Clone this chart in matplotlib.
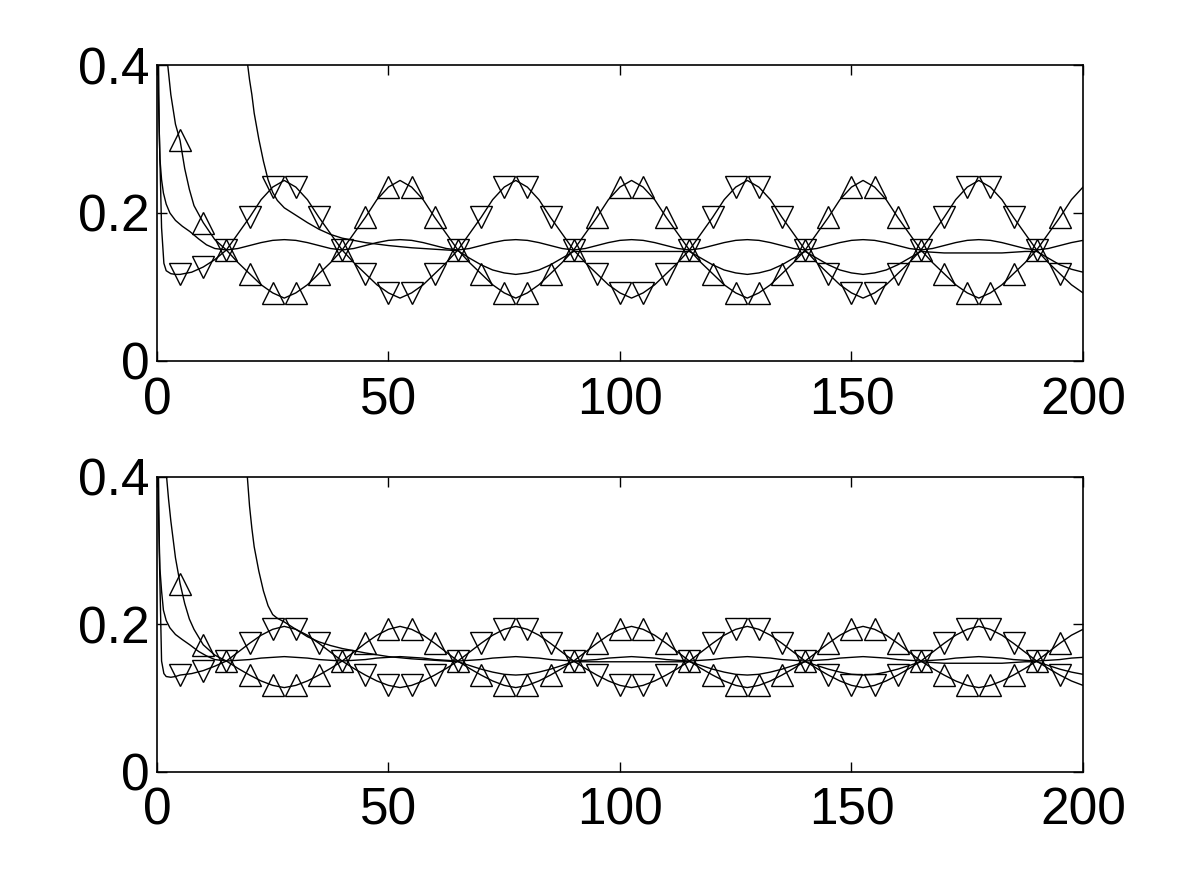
import numpy as np
import matplotlib
matplotlib.use("Agg")
from matplotlib import pyplot as plt

plt.rcParams['font.family'] = ['Liberation Sans', 'DejaVu Sans']

# ---------------- top panel data ----------------
# sine-like curve with down-triangles
xa_top = [0, 0.5, 1.0, 1.5, 2.0, 3.0, 4.0, 5.0, 7.5, 10.0, 12.5,
          15, 17.5, 20, 22.5, 25, 27.5, 30, 32.5, 35, 37.5,
          40, 42.5, 45, 47.5, 50, 52.5, 55, 57.5, 60, 62.5,
          65, 67.5, 70, 72.5, 75, 77.5, 80, 82.5, 85, 87.5,
          90, 92.5, 95, 97.5, 100, 102.5, 105, 107.5, 110, 112.5,
          115, 117.5, 120, 122.5, 125, 127.5, 130, 132.5, 135, 137.5,
          140, 142.5, 145, 147.5, 150, 152.5, 155, 157.5, 160, 162.5,
          165, 167.5, 170, 172.5, 175, 177.5, 180, 182.5, 185, 187.5,
          190, 192.5, 195, 197.5, 200]
ya_top = [0.62, 0.31, 0.18, 0.132, 0.122, 0.118, 0.117, 0.117, 0.120, 0.127, 0.137,
          0.150, 0.172, 0.194, 0.218, 0.235, 0.244, 0.235, 0.218, 0.194, 0.172,
          0.150, 0.133, 0.118, 0.103, 0.092, 0.085, 0.092, 0.103, 0.118, 0.133,
          0.150, 0.172, 0.194, 0.218, 0.235, 0.244, 0.235, 0.218, 0.194, 0.172,
          0.150, 0.133, 0.118, 0.103, 0.092, 0.085, 0.092, 0.103, 0.118, 0.133,
          0.150, 0.172, 0.194, 0.218, 0.235, 0.244, 0.235, 0.218, 0.194, 0.172,
          0.150, 0.133, 0.118, 0.103, 0.092, 0.085, 0.092, 0.103, 0.118, 0.133,
          0.150, 0.172, 0.194, 0.218, 0.235, 0.244, 0.235, 0.218, 0.194, 0.172,
          0.150, 0.133, 0.118, 0.103, 0.092]

# sine-like curve with up-triangles
xb_top = [2.0, 3.0, 4.0, 5.0, 6.0, 7.0, 8.0, 10.0, 12.5,
          15, 17.5, 20, 22.5, 25, 27.5, 30, 32.5, 35, 37.5,
          40, 42.5, 45, 47.5, 50, 52.5, 55, 57.5, 60, 62.5,
          65, 67.5, 70, 72.5, 75, 77.5, 80, 82.5, 85, 87.5,
          90, 92.5, 95, 97.5, 100, 102.5, 105, 107.5, 110, 112.5,
          115, 117.5, 120, 122.5, 125, 127.5, 130, 132.5, 135, 137.5,
          140, 142.5, 145, 147.5, 150, 152.5, 155, 157.5, 160, 162.5,
          165, 167.5, 170, 172.5, 175, 177.5, 180, 182.5, 185, 187.5,
          190, 192.5, 195, 197.5, 200]
yb_top = [0.42, 0.36, 0.32, 0.298, 0.26, 0.232, 0.21, 0.187, 0.164,
          0.150, 0.133, 0.118, 0.103, 0.092, 0.085, 0.092, 0.103, 0.118, 0.133,
          0.150, 0.172, 0.194, 0.218, 0.235, 0.244, 0.235, 0.218, 0.194, 0.172,
          0.150, 0.133, 0.118, 0.103, 0.092, 0.085, 0.092, 0.103, 0.118, 0.133,
          0.150, 0.172, 0.194, 0.218, 0.235, 0.244, 0.235, 0.218, 0.194, 0.172,
          0.150, 0.133, 0.118, 0.103, 0.092, 0.085, 0.092, 0.103, 0.118, 0.133,
          0.150, 0.172, 0.194, 0.218, 0.235, 0.244, 0.235, 0.218, 0.194, 0.172,
          0.150, 0.133, 0.118, 0.103, 0.092, 0.085, 0.092, 0.103, 0.118, 0.133,
          0.150, 0.172, 0.194, 0.218, 0.235]

# thin curve (small bumps)
xc_top = [0.0, 0.3, 0.65, 1.0, 1.4, 2.0, 2.8, 4.0, 5.5, 7.1, 9.0, 10.7, 12.5,
          15, 17.5, 20, 22.5, 25, 27.5, 30, 32.5, 35, 37.5,
          40, 42.5, 45, 47.5, 50, 52.5, 55, 57.5, 60, 62.5,
          65, 67.5, 70, 72.5, 75, 77.5, 80, 82.5, 85, 87.5,
          90, 92.5, 95, 97.5, 100, 102.5, 105, 107.5, 110, 112.5,
          115, 117.5, 120, 122.5, 125, 127.5, 130, 132.5, 135, 137.5,
          140, 142.5, 145, 147.5, 150, 152.5, 155, 157.5, 160, 162.5,
          165, 167.5, 170, 172.5, 175, 177.5, 180, 182.5, 185, 187.5,
          190, 192.5, 195, 197.5, 200]
yc_top = [0.47, 0.36, 0.273, 0.245, 0.227, 0.212, 0.200, 0.190, 0.182, 0.175, 0.165, 0.157, 0.152,
          0.150, 0.152, 0.156, 0.160, 0.163, 0.164, 0.163, 0.160, 0.156, 0.152,
          0.150, 0.152, 0.156, 0.160, 0.163, 0.164, 0.163, 0.160, 0.156, 0.152,
          0.150, 0.152, 0.156, 0.160, 0.163, 0.164, 0.163, 0.160, 0.156, 0.152,
          0.150, 0.152, 0.156, 0.160, 0.163, 0.164, 0.163, 0.160, 0.156, 0.152,
          0.150, 0.152, 0.156, 0.160, 0.163, 0.164, 0.163, 0.160, 0.156, 0.152,
          0.150, 0.152, 0.156, 0.160, 0.163, 0.164, 0.163, 0.160, 0.156, 0.152,
          0.150, 0.152, 0.156, 0.160, 0.163, 0.164, 0.163, 0.160, 0.156, 0.152,
          0.150, 0.152, 0.156, 0.160, 0.163]

# thin curve (late decay, then dips)
xd_top = [19.4, 20, 20.5, 21, 22, 23, 24, 25, 26, 27.5, 30, 32.5, 35, 37.5,
          40, 45, 50, 55, 60,
          65, 67.5, 70, 72.5, 75, 77.5, 80, 82.5, 85, 87.5,
          90, 92.5, 95, 97.5, 100, 102.5, 105, 107.5, 110, 112.5,
          115, 117.5, 120, 122.5, 125, 127.5, 130, 132.5, 135, 137.5,
          140, 142.5, 145, 147.5, 150, 152.5, 155, 157.5, 160, 162.5,
          165, 167.5, 170, 172.5, 175, 177.5, 180, 182.5, 185, 187.5,
          190, 192.5, 195, 197.5, 200]
yd_top = [0.41, 0.38, 0.36, 0.335, 0.30, 0.27, 0.245, 0.228, 0.217, 0.207, 0.197, 0.187, 0.178, 0.171,
          0.166, 0.160, 0.156, 0.153, 0.151,
          0.149, 0.139, 0.130, 0.123, 0.119, 0.117, 0.119, 0.123, 0.130, 0.139,
          0.148, 0.148, 0.148, 0.148, 0.148, 0.148, 0.148, 0.148, 0.148, 0.148,
          0.148, 0.139, 0.130, 0.123, 0.119, 0.117, 0.119, 0.123, 0.130, 0.139,
          0.148, 0.139, 0.130, 0.123, 0.119, 0.117, 0.119, 0.123, 0.130, 0.139,
          0.148, 0.147, 0.146, 0.146, 0.146, 0.146, 0.146, 0.146, 0.147, 0.148,
          0.148, 0.139, 0.130, 0.124, 0.120]

# ---------------- bottom panel data ----------------
xa_bot = xa_top
ya_bot = [0.62, 0.30, 0.15, 0.133, 0.129, 0.128, 0.129, 0.131, 0.133, 0.137, 0.143,
          0.150, 0.162, 0.174, 0.185, 0.193, 0.197, 0.193, 0.185, 0.174, 0.162,
          0.150, 0.140, 0.131, 0.123, 0.117, 0.114, 0.117, 0.123, 0.131, 0.140,
          0.150, 0.162, 0.174, 0.185, 0.193, 0.197, 0.193, 0.185, 0.174, 0.162,
          0.150, 0.140, 0.131, 0.123, 0.117, 0.114, 0.117, 0.123, 0.131, 0.140,
          0.150, 0.162, 0.174, 0.185, 0.193, 0.197, 0.193, 0.185, 0.174, 0.162,
          0.150, 0.140, 0.131, 0.123, 0.117, 0.114, 0.117, 0.123, 0.131, 0.140,
          0.150, 0.162, 0.174, 0.185, 0.193, 0.197, 0.193, 0.185, 0.174, 0.162,
          0.150, 0.140, 0.131, 0.123, 0.117]

xb_bot = [1.8, 2.5, 3.0, 4.0, 5.0, 6.0, 7.0, 8.0, 10.0, 12.5,
          15, 17.5, 20, 22.5, 25, 27.5, 30, 32.5, 35, 37.5,
          40, 42.5, 45, 47.5, 50, 52.5, 55, 57.5, 60, 62.5,
          65, 67.5, 70, 72.5, 75, 77.5, 80, 82.5, 85, 87.5,
          90, 92.5, 95, 97.5, 100, 102.5, 105, 107.5, 110, 112.5,
          115, 117.5, 120, 122.5, 125, 127.5, 130, 132.5, 135, 137.5,
          140, 142.5, 145, 147.5, 150, 152.5, 155, 157.5, 160, 162.5,
          165, 167.5, 170, 172.5, 175, 177.5, 180, 182.5, 185, 187.5,
          190, 192.5, 195, 197.5, 200]
yb_bot = [0.42, 0.37, 0.34, 0.29, 0.255, 0.228, 0.207, 0.193, 0.172, 0.158,
          0.150, 0.140, 0.131, 0.123, 0.117, 0.114, 0.117, 0.123, 0.131, 0.140,
          0.150, 0.162, 0.174, 0.185, 0.193, 0.197, 0.193, 0.185, 0.174, 0.162,
          0.150, 0.140, 0.131, 0.123, 0.117, 0.114, 0.117, 0.123, 0.131, 0.140,
          0.150, 0.162, 0.174, 0.185, 0.193, 0.197, 0.193, 0.185, 0.174, 0.162,
          0.150, 0.140, 0.131, 0.123, 0.117, 0.114, 0.117, 0.123, 0.131, 0.140,
          0.150, 0.162, 0.174, 0.185, 0.193, 0.197, 0.193, 0.185, 0.174, 0.162,
          0.150, 0.140, 0.131, 0.123, 0.117, 0.114, 0.117, 0.123, 0.131, 0.140,
          0.150, 0.162, 0.174, 0.185, 0.193]

xc_bot = xc_top
yc_bot = [0.47, 0.36, 0.275, 0.245, 0.219, 0.205, 0.195, 0.186, 0.179, 0.172, 0.163, 0.157, 0.152,
          0.150, 0.151, 0.152, 0.154, 0.155, 0.156, 0.155, 0.154, 0.152, 0.151,
          0.150, 0.151, 0.152, 0.154, 0.155, 0.156, 0.155, 0.154, 0.152, 0.151,
          0.150, 0.151, 0.152, 0.154, 0.155, 0.156, 0.155, 0.154, 0.152, 0.151,
          0.150, 0.151, 0.152, 0.154, 0.155, 0.156, 0.155, 0.154, 0.152, 0.151,
          0.150, 0.151, 0.152, 0.154, 0.155, 0.156, 0.155, 0.154, 0.152, 0.151,
          0.150, 0.151, 0.152, 0.154, 0.155, 0.156, 0.155, 0.154, 0.152, 0.151,
          0.150, 0.151, 0.152, 0.154, 0.155, 0.156, 0.155, 0.154, 0.152, 0.151,
          0.150, 0.151, 0.152, 0.154, 0.155]

xd_bot = xd_top
yd_bot = [0.41, 0.36, 0.33, 0.305, 0.272, 0.245, 0.225, 0.213, 0.208, 0.203, 0.193, 0.183, 0.176, 0.171,
          0.167, 0.161, 0.156, 0.153, 0.151,
          0.149, 0.144, 0.139, 0.135, 0.132, 0.131, 0.132, 0.135, 0.139, 0.144,
          0.149, 0.149, 0.149, 0.149, 0.149, 0.149, 0.149, 0.149, 0.149, 0.149,
          0.149, 0.144, 0.139, 0.135, 0.132, 0.131, 0.132, 0.135, 0.139, 0.144,
          0.149, 0.144, 0.139, 0.135, 0.132, 0.131, 0.132, 0.135, 0.139, 0.144,
          0.149, 0.148, 0.147, 0.147, 0.147, 0.147, 0.147, 0.147, 0.148, 0.149,
          0.149, 0.144, 0.139, 0.135, 0.132]

x_ticks = [0, 50, 100, 150, 200]
y_ticks = [0, 0.2, 0.4]
y_ticklabels = ['0', '0.2', '0.4']


def marks(x, y):
    # symbols every 5 time units
    x = np.asarray(x, dtype=float)
    y = np.asarray(y, dtype=float)
    keep = (np.mod(x, 5) == 0) & (x > 0) & (x < 200)
    return x[keep], y[keep]


def draw_panel(ax, xa, ya, xb, yb, xc, yc, xd, yd):
    lw = 1.0
    ax.plot(xc, yc, color='black', lw=lw)
    ax.plot(xd, yd, color='black', lw=lw)
    ax.plot(xa, ya, color='black', lw=lw)
    ax.plot(xb, yb, color='black', lw=lw)
    mx, my = marks(xa, ya)
    ax.plot(mx, my, ls='none', marker='v', ms=16.5, mfc='none', mec='black', mew=1.0)
    mx, my = marks(xb, yb)
    ax.plot(mx, my, ls='none', marker='^', ms=16.5, mfc='none', mec='black', mew=1.0)
    ax.set_xlim(0, 200)
    ax.set_ylim(0, 0.4)
    ax.set_xticks(x_ticks)
    ax.set_xticklabels([str(t) for t in x_ticks])
    ax.set_yticks(y_ticks)
    ax.set_yticklabels(y_ticklabels)
    ax.tick_params(direction='in', length=7, width=1.0, top=True, right=True,
                   labelsize=37)
    ax.tick_params(axis='x', pad=11)
    ax.tick_params(axis='y', pad=5)
    for s in ax.spines.values():
        s.set_linewidth(1.2)


fig = plt.figure(figsize=(11.98, 8.69), dpi=100)
ax1 = fig.add_axes([0.131, 0.5846, 0.773, 0.3406])
ax2 = fig.add_axes([0.131, 0.1120, 0.773, 0.3395])

draw_panel(ax1, xa_top, ya_top, xb_top, yb_top, xc_top, yc_top, xd_top, yd_top)
draw_panel(ax2, xa_bot, ya_bot, xb_bot, yb_bot, xc_bot, yc_bot, xd_bot, yd_bot)

fig.savefig('out.png', dpi=100)
